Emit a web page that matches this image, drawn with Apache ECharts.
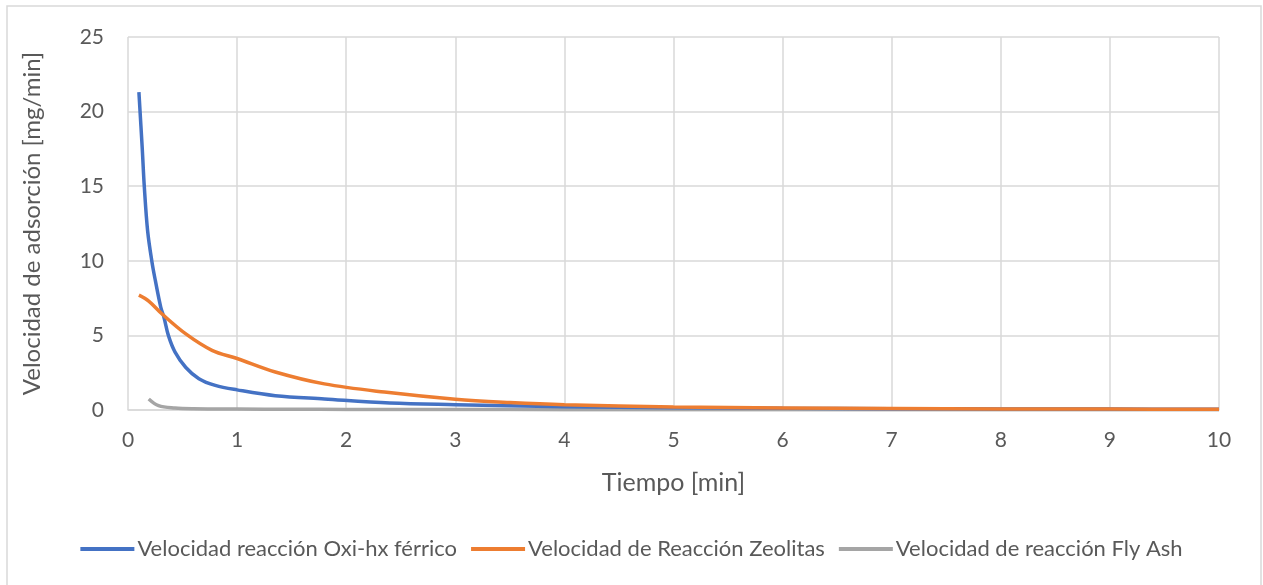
<!DOCTYPE html>
<html><head><meta charset="utf-8">
<script src="https://cdn.jsdelivr.net/npm/echarts@6/dist/echarts.min.js"></script>
<style>html,body{margin:0;padding:0;background:#fff}#c{width:1263px;height:585px}</style>
</head><body><div id="c"></div>
<script>
const seriesNames = ['Velocidad reacción Oxi-hx férrico','Velocidad de Reacción Zeolitas','Velocidad de reacción Fly Ash'];
const oxiT = [0.1,0.13,0.15,0.18,0.22,0.25,0.3,0.33,0.37,0.43,0.53,0.65,0.8,1,1.35,1.8,2.4,3,4,5,6,7,8,9,10];
const oxiV = [21.3,17.6,14.9,12.0,9.9,8.7,6.9,6.2,5.0,3.9,2.85,2.1,1.65,1.35,0.96,0.74,0.47,0.36,0.22,0.15,0.11,0.09,0.07,0.06,0.05];
const zeoT = [0.1,0.19,0.31,0.53,0.77,1,1.35,1.8,2.35,3,3.5,4,5,6,7,8,9,10];
const zeoV = [7.7,7.3,6.45,5.1,4.0,3.45,2.55,1.75,1.2,0.72,0.5,0.35,0.2,0.14,0.1,0.07,0.06,0.05];
const flyT = [0.19,0.28,0.43,0.6,1,1.5,2,3,4,5,6,7,8,9,10];
const flyV = [0.74,0.29,0.13,0.08,0.06,0.05,0.04,0.03,0.025,0.02,0.02,0.015,0.015,0.01,0.01];
const xTicks = [0,1,2,3,4,5,6,7,8,9,10];
const yTicks = [0,5,10,15,20,25];
const colors = ['#4472C4','#ED7D31','#A5A5A5'];
const pairs = (t,v)=>t.map((x,i)=>[x,v[i]]);
const FONT = 'Lato';
const chart = echarts.init(document.getElementById('c'));
const mk = (i,t,v,z)=>({name:seriesNames[i],type:'line',data:pairs(t,v),smooth:0.35,showSymbol:false,
  itemStyle:{color:colors[i]},lineStyle:{width:3.5,color:colors[i]},z:z});
chart.setOption({
  animation:false,
  color: colors,
  textStyle:{fontFamily:FONT},
  graphic:[{type:'rect',shape:{x:7,y:6,width:1254,height:590},style:{fill:'none',stroke:'#d9d9d9',lineWidth:1.5},silent:true,z:-1}],
  grid:{left:128,right:44,top:37,bottom:175,containLabel:false},
  xAxis:{type:'value',min:0,max:10,interval:1,
    name:'Tiempo [min]',nameLocation:'middle',nameGap:60,
    nameTextStyle:{fontSize:25,color:'#595959',fontFamily:FONT},
    axisLine:{show:true,lineStyle:{color:'#d9d9d9',width:1.5}},axisTick:{show:false},
    axisLabel:{fontSize:21,color:'#595959',margin:20,fontFamily:FONT},
    splitLine:{show:true,lineStyle:{color:'#d9d9d9',width:1.5}}},
  yAxis:{type:'value',min:0,max:25,interval:5,
    name:'Velocidad de adsorción [mg/min]',nameLocation:'middle',nameGap:84,nameRotate:90,
    nameTextStyle:{fontSize:24,color:'#595959',fontFamily:FONT},
    axisLine:{show:false},axisTick:{show:false},
    axisLabel:{fontSize:21,color:'#595959',margin:24,fontFamily:FONT},
    splitLine:{show:true,lineStyle:{color:'#d9d9d9',width:1.5}}},
  legend:{bottom:20,left:'center',itemWidth:54,itemHeight:4,itemGap:14,icon:'rect',
    textStyle:{fontSize:22,color:'#595959',fontFamily:FONT,padding:[0,0,0,-2]},
    data:seriesNames},
  series:[
    mk(0,oxiT,oxiV,3),
    mk(1,zeoT,zeoV,4),
    mk(2,flyT,flyV,2)
  ]
});
</script></body></html>
